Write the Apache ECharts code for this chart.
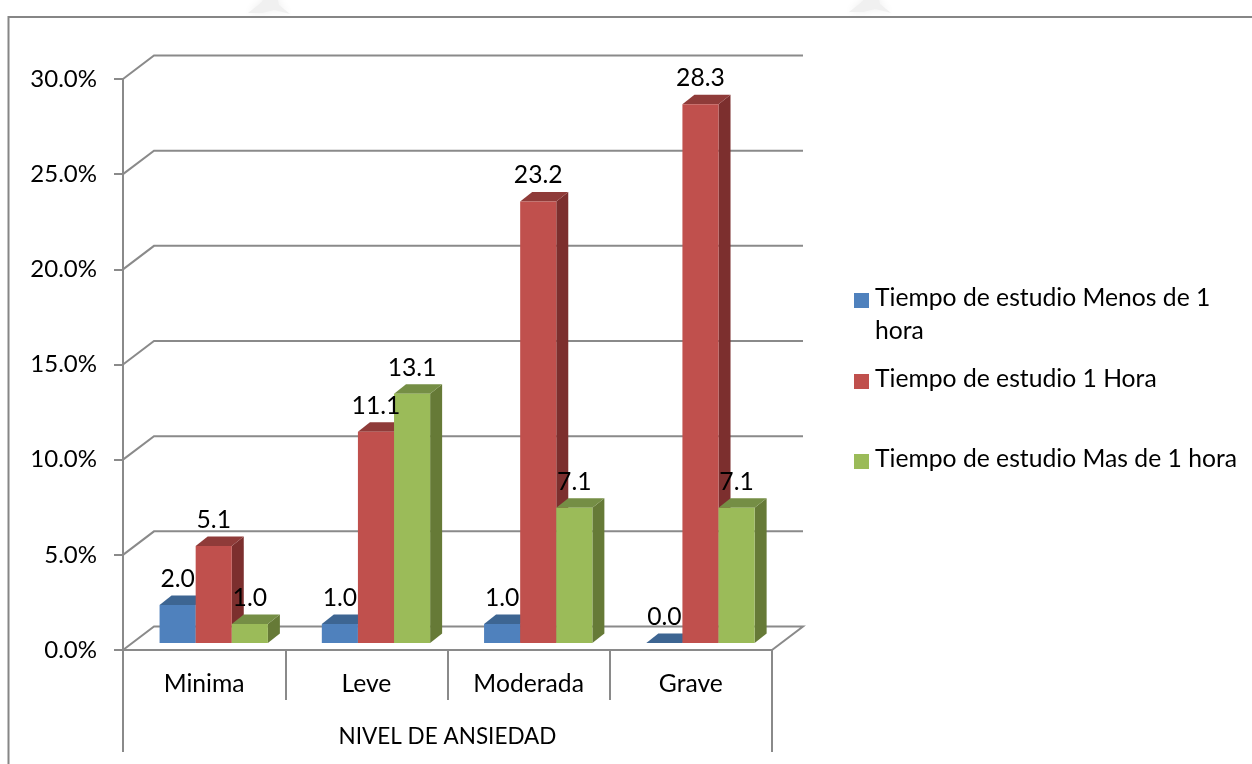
<!DOCTYPE html>
<html>
<head>
<meta charset="utf-8">
<title>Nivel de ansiedad</title>
<script src="https://cdn.jsdelivr.net/npm/echarts@6/dist/echarts.min.js"></script>
<style>html,body{margin:0;padding:0;background:#fff}#chart{width:1252px;height:764px}</style>
</head>
<body>
<div id="chart"></div>
<script>
// Percent of students per anxiety level and daily study time
const categories = ['Minima', 'Leve', 'Moderada', 'Grave'];
const menosDeUnaHora = [2.0, 1.0, 1.0, 0.0];
const unaHora = [5.1, 11.1, 23.2, 28.3];
const masDeUnaHora = [1.0, 13.1, 7.1, 7.1];
const valueTicks = [0, 5, 10, 15, 20, 25, 30];
const seriesNames = [
  'Tiempo de estudio Menos de 1',
  'Tiempo de estudio 1 Hora',
  'Tiempo de estudio Mas de 1 hora'
];
const wrappedLegendLine = 'hora';
const axisTitle = 'NIVEL DE ANSIEDAD';

const FONT = 'Lato, "Open Sans", sans-serif';
const TEXT_SIZE = 24.7;
const LINE = '#8a8a8a';
// Offset of the back wall relative to the front of the floor
const WALL_DX = 31, WALL_DY = 23.5;
// Bars stand slightly behind the front edge and have a small depth
const BAR_SHIFT_X = 9.6, BAR_SHIFT_Y = 7, DEPTH_X = 12, DEPTH_Y = 9.5;
const BAR_RATIO = 0.2225;

const palettes = [
  { front: '#4f81bd', top: '#3d6592', side: '#35597f' },
  { front: '#c0504d', top: '#8f3b39', side: '#7c2f2e' },
  { front: '#9bbb59', top: '#758e45', side: '#667a37' }
];

function barRenderer(slot) {
  const p = palettes[slot];
  return function (params, api) {
    const cat = api.value(0), val = api.value(1);
    const zero = api.coord([cat, 0]);
    const head = api.coord([cat, val]);
    const w = api.size([1, 0])[0] * BAR_RATIO;
    const x0 = zero[0] + BAR_SHIFT_X + (slot - 1.5) * w;
    const x1 = x0 + w;
    const yb = zero[1] - BAR_SHIFT_Y;
    const yt = head[1] - BAR_SHIFT_Y;
    return {
      type: 'group',
      children: [
        { type: 'polygon', shape: { points: [[x1, yb], [x1 + DEPTH_X, yb - DEPTH_Y], [x1 + DEPTH_X, yt - DEPTH_Y], [x1, yt]] }, style: { fill: p.side } },
        { type: 'polygon', shape: { points: [[x0, yt], [x0 + DEPTH_X, yt - DEPTH_Y], [x1 + DEPTH_X, yt - DEPTH_Y], [x1, yt]] }, style: { fill: p.top } },
        { type: 'rect', shape: { x: x0, y: yt, width: w, height: yb - yt }, style: { fill: p.front } },
        {
          type: 'text', z2: 100,
          style: {
            x: (x0 + x1) / 2, y: yt - 26, text: val.toFixed(1),
            align: 'center', verticalAlign: 'middle',
            font: TEXT_SIZE + 'px ' + FONT, fill: '#000'
          }
        }
      ]
    };
  };
}

// Back wall gridlines, floor edge and the outer posts of the category table
function wallRenderer(params, api) {
  const v = api.value(1);
  const cs = params.coordSys;
  const y = api.coord([0, v])[1];
  const left = cs.x, right = cs.x + cs.width;
  const pts = [[left, y], [left + WALL_DX, y - WALL_DY], [right + WALL_DX, y - WALL_DY]];
  const children = [];
  if (v === 0) {
    pts.push([right, y]);
    [left, right].forEach(function (px) {
      children.push({ type: 'line', shape: { x1: px, y1: y, x2: px, y2: y + 102 }, style: { stroke: LINE, lineWidth: 2 } });
    });
  }
  children.push({ type: 'polyline', shape: { points: pts }, style: { stroke: LINE, lineWidth: 2, fill: null } });
  return { type: 'group', children: children };
}

function barSeries(slot, values) {
  return {
    name: seriesNames[slot],
    type: 'custom',
    coordinateSystem: 'cartesian2d',
    renderItem: barRenderer(slot),
    itemStyle: { color: palettes[slot].front },
    encode: { x: 0, y: 1 },
    data: values.map(function (v, i) { return [i, v]; })
  };
}

function legendAt(slot, top) {
  return {
    data: [seriesNames[slot]],
    left: 854, top: top,
    orient: 'vertical',
    icon: 'rect',
    itemWidth: 15, itemHeight: 15, itemGap: 0,
    padding: 0,
    selectedMode: false,
    formatter: function (name) { return '{t|' + name + '}'; },
    textStyle: {
      rich: { t: { fontFamily: FONT, fontSize: TEXT_SIZE, color: '#000', padding: [0, 0, 4, 1] } }
    }
  };
}

// Faint print-through mark above the frame
function faintMark(cx, cy) {
  return {
    type: 'polygon', silent: true, z: -1,
    shape: { points: [[cx - 22, cy + 9], [cx - 8, cy - 2], [cx - 6, cy - 8], [cx + 7, cy - 8], [cx + 9, cy + 1], [cx + 20, cy + 10], [cx + 4, cy + 6], [cx - 8, cy + 9]] },
    style: { fill: '#f0f0f0', shadowBlur: 8, shadowColor: '#eeeeee' }
  };
}

const chart = echarts.init(document.getElementById('chart'), null, { renderer: 'canvas' });
chart.setOption({
  animation: false,
  backgroundColor: '#fff',
  graphic: [
    faintMark(270, 4),
    faintMark(871, 3),
    { type: 'polyline', silent: true, shape: { points: [[8.5, 770], [8.5, 17], [1260, 17]] }, style: { stroke: '#868686', lineWidth: 2, fill: null } },
    { type: 'text', left: 875, top: 319, style: { text: wrappedLegendLine, font: TEXT_SIZE + 'px ' + FONT, fill: '#000' } }
  ],
  grid: { left: 123, top: 79, width: 649, height: 571 },
  xAxis: {
    type: 'category',
    data: categories,
    name: axisTitle,
    nameLocation: 'middle',
    nameGap: 75,
    nameTextStyle: { fontFamily: FONT, fontSize: 22.5, color: '#000' },
    axisLine: { lineStyle: { color: LINE, width: 2 } },
    axisTick: { show: true, length: 50, lineStyle: { color: LINE, width: 2 } },
    axisLabel: { margin: 22, fontFamily: FONT, fontSize: TEXT_SIZE, color: '#000' }
  },
  yAxis: {
    type: 'value',
    min: 0, max: 30, interval: 5,
    axisLine: { show: true, lineStyle: { color: LINE, width: 2 } },
    axisTick: { show: true, length: 9, lineStyle: { color: LINE, width: 2 } },
    splitLine: { show: false },
    axisLabel: {
      margin: 26, fontFamily: FONT, fontSize: 24, color: '#000',
      formatter: function (v) { return v.toFixed(1) + '%'; }
    }
  },
  legend: [legendAt(0, 286), legendAt(1, 367), legendAt(2, 447)],
  series: [
    {
      type: 'custom',
      coordinateSystem: 'cartesian2d',
      renderItem: wallRenderer,
      silent: true,
      encode: { x: 0, y: 1 },
      data: valueTicks.map(function (v) { return [0, v]; })
    },
    barSeries(0, menosDeUnaHora),
    barSeries(1, unaHora),
    barSeries(2, masDeUnaHora)
  ]
});
</script>
</body>
</html>
